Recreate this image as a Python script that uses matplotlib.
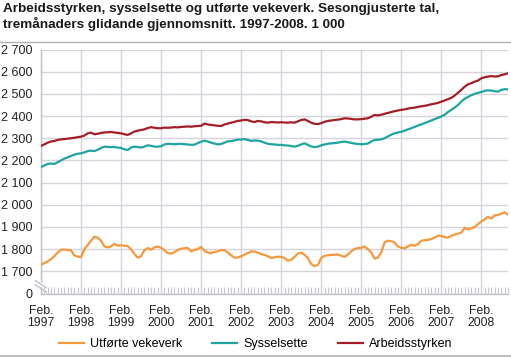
import numpy as np
import matplotlib
matplotlib.use("Agg")
import matplotlib.pyplot as plt
from matplotlib.lines import Line2D

plt.rcParams['font.family'] = ['Liberation Sans', 'DejaVu Sans']

title = "Arbeidsstyrken, sysselsette og utførte vekeverk. Sesongjusterte tal,\ntremånaders glidande gjennomsnitt. 1997-2008. 1 000"
years = [str(y) for y in range(1997, 2009)]
x_labels = ["Feb.\n" + y for y in years]

# Monthly values, Feb 1997 - Oct 2008 (1 000)
arbeidsstyrken = [
    2265, 2272, 2280, 2285, 2288, 2292, 2295, 2296, 2298, 2300, 2302, 2305,
    2307, 2312, 2322, 2325, 2318, 2320, 2324, 2326, 2327, 2328, 2326, 2324,
    2322, 2318, 2315, 2322, 2330, 2334, 2337, 2340, 2346, 2350, 2347, 2345,
    2345, 2348, 2347, 2348, 2350, 2349, 2351, 2352, 2353, 2352, 2354, 2355,
    2356, 2366, 2362, 2360, 2358, 2356, 2355, 2362, 2366, 2370, 2374, 2378,
    2380, 2383, 2382, 2376, 2373, 2378, 2376, 2372, 2370, 2373, 2372, 2371,
    2372, 2371, 2370, 2372, 2370, 2376, 2382, 2385, 2378, 2370, 2365, 2364,
    2368, 2374, 2378, 2380, 2382, 2384, 2386, 2390, 2389, 2387, 2385, 2385,
    2386, 2388, 2390, 2397, 2405, 2403, 2406, 2410, 2414, 2418, 2422, 2425,
    2428, 2430, 2434, 2436, 2438, 2441, 2444, 2446, 2449, 2453, 2456, 2459,
    2465, 2470, 2476, 2482, 2492, 2505, 2518, 2532, 2543, 2548, 2555, 2560,
    2570, 2575, 2578, 2580, 2578, 2579, 2585, 2588, 2593,
]
sysselsette = [
    2170, 2177, 2184, 2186, 2184, 2192, 2200, 2208, 2214, 2220, 2226, 2230,
    2232, 2236, 2242, 2244, 2242, 2248, 2256, 2262, 2261, 2260, 2260, 2258,
    2256, 2250, 2247, 2258, 2262, 2260, 2258, 2262, 2268, 2266, 2262, 2262,
    2264, 2272, 2275, 2274, 2273, 2274, 2275, 2273, 2272, 2270, 2271, 2278,
    2284, 2289, 2285, 2280, 2276, 2272, 2274, 2280, 2286, 2287, 2290, 2294,
    2294, 2296, 2292, 2288, 2290, 2289, 2286, 2280, 2275, 2273, 2272, 2270,
    2270, 2268, 2267, 2265, 2262, 2266, 2272, 2277, 2270, 2263, 2260, 2262,
    2268, 2272, 2275, 2277, 2278, 2280, 2283, 2285, 2282, 2279, 2276, 2274,
    2273, 2274, 2276, 2285, 2292, 2293, 2295, 2300, 2308, 2316, 2322, 2326,
    2329, 2334, 2340, 2345, 2351, 2357, 2362, 2368, 2374, 2380, 2386, 2392,
    2398, 2406, 2418, 2428, 2438, 2450, 2465, 2478, 2486, 2494, 2500, 2505,
    2508, 2514, 2516, 2515, 2512, 2510, 2518, 2521, 2520,
]
utforte_vekeverk = [
    1730, 1737, 1745, 1755, 1768, 1785, 1797, 1798, 1796, 1795, 1772, 1766,
    1764, 1800, 1818, 1838, 1856, 1852, 1838, 1812, 1808, 1812, 1824, 1815,
    1818, 1815, 1814, 1800, 1778, 1762, 1768, 1795, 1805, 1797, 1808, 1812,
    1806, 1795, 1782, 1780, 1786, 1796, 1802, 1804, 1805, 1790, 1797, 1800,
    1810, 1792, 1785, 1782, 1788, 1790, 1796, 1795, 1785, 1772, 1762, 1762,
    1768, 1775, 1782, 1790, 1789, 1784, 1778, 1774, 1768, 1760, 1763, 1766,
    1765, 1760, 1748, 1752, 1765, 1780, 1784, 1775, 1760, 1733, 1724, 1728,
    1760, 1770, 1772, 1774, 1775, 1776, 1770, 1765, 1776, 1790, 1800, 1805,
    1806, 1812, 1800, 1785, 1757, 1762, 1785, 1830, 1838, 1836, 1830, 1812,
    1806, 1804, 1812, 1820, 1815, 1822, 1838, 1840, 1842, 1845, 1852, 1860,
    1860, 1854, 1852, 1860, 1866, 1870, 1874, 1896, 1890, 1893, 1900, 1912,
    1925, 1934, 1946, 1938, 1952, 1954, 1960, 1966, 1955,
]
series_names = ["Utførte vekeverk", "Sysselsette", "Arbeidsstyrken"]
colors = ["#f7983a", "#1ea4a2", "#a51d26"]

# y-axis: broken axis, lowest tick shown as 0
y_ticks = [1600, 1700, 1800, 1900, 2000, 2100, 2200, 2300, 2400, 2500, 2600, 2700]
y_labels = ["0", "1 700", "1 800", "1 900", "2 000", "2 100", "2 200",
            "2 300", "2 400", "2 500", "2 600", "2 700"]

W, H = 511, 357
fig = plt.figure(figsize=(W / 100, H / 100), dpi=100)
ax = fig.add_axes([41 / W, 1 - 293.5 / H, (508 - 41) / W, (293.5 - 49.5) / H])

x = np.arange(len(arbeidsstyrken))
for vals, name, c in zip([utforte_vekeverk, sysselsette, arbeidsstyrken], series_names, colors):
    ax.plot(np.arange(len(vals)), vals, color=c, lw=1.6, label=name, solid_joinstyle='round', zorder=3)

ax.set_xlim(0, len(x) - 1)
ax.set_ylim(1600, 2700)
ax.set_yticks(y_ticks)
ax.set_yticklabels(y_labels)
ax.set_xticks(np.arange(0, len(x), 12))
ax.set_xticklabels(x_labels, linespacing=1.0)
ax.set_xticks(np.arange(0, len(x)), minor=True)

grid_c = "#d4d4dc"
ax.grid(True, which='major', color=grid_c, lw=1.0, zorder=0)
ax.tick_params(axis='y', length=0, labelsize=9, colors='#222222', pad=6)
ax.tick_params(axis='x', which='major', length=0, labelsize=8.8, colors='#222222', pad=8)
ax.tick_params(axis='x', which='minor', length=5, direction='in', color='#c8c8d0', width=0.8)

for s in ['top', 'right']:
    ax.spines[s].set_visible(False)
ax.spines['left'].set_color('#c0c0c8')
ax.spines['bottom'].set_color('#c0c0c8')
ax.spines['left'].set_linewidth(1.0)
ax.spines['bottom'].set_linewidth(1.0)

# axis break marks
ax.fill_between([-0.01, 0.01], [0.03, 0.03], [0.045, 0.045], transform=ax.transAxes,
                color='white', zorder=4, clip_on=False)
for dy in (0.0, 0.018):
    ax.plot([-0.012, 0.012], [0.035 + dy, 0.005 + dy], transform=ax.transAxes,
            color='#c0c0c8', lw=1.0, clip_on=False, zorder=5)

# title and rules
fig.text(3 / W, 1 - 3 / H, title, ha='left', va='top', fontsize=9.7, fontweight='bold',
         color='#1a1a1a', linespacing=1.2)
fig.add_artist(Line2D([0, 1], [1 - 41.5 / H, 1 - 41.5 / H], transform=fig.transFigure,
                      color='#b0b0b0', lw=1.0))
fig.add_artist(Line2D([0, 1], [1 - 355.5 / H, 1 - 355.5 / H], transform=fig.transFigure,
                      color='#b0b0b0', lw=1.2))

handles = [Line2D([], [], color=c, lw=1.6) for c in colors]
fig.legend(handles, series_names, loc='center', bbox_to_anchor=(0.5, 1 - 344 / H), ncol=3,
           frameon=False, fontsize=9, handlelength=2.0, columnspacing=2.4, handletextpad=0.5)

fig.savefig("out.png", dpi=100)
